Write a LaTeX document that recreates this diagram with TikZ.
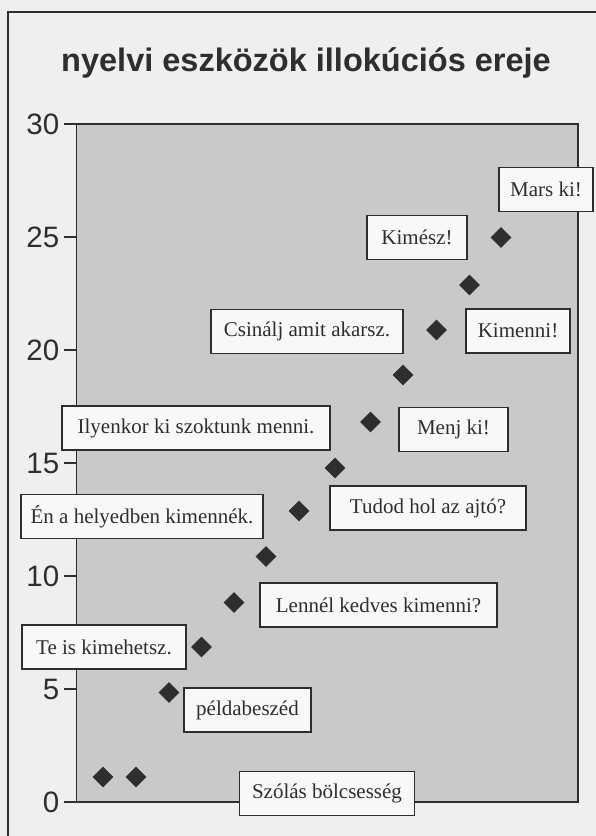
\documentclass[tikz,border=0pt]{standalone}
\usepackage{fontspec}
\setmainfont{Liberation Serif}
\setsansfont{Liberation Sans}
\usetikzlibrary{shapes.geometric}
\definecolor{bg}{HTML}{EFEFEF}
\definecolor{plotbg}{HTML}{C9C9C9}
\definecolor{ink}{HTML}{2E2E2E}
\definecolor{boxfill}{HTML}{F8F8F8}
\tikzset{
  lbl/.style={draw=ink, line width=1.4pt, fill=boxfill, text=ink,
    font=\fontsize{21}{24}\selectfont, minimum height=44pt, inner sep=0pt},
  pt/.style={diamond, fill=ink, inner sep=0pt, minimum width=21pt, minimum height=21pt},
  ticklbl/.style={font=\sffamily\fontsize{29.5}{32}\selectfont, text=ink, anchor=east, inner sep=0pt},
  axisline/.style={draw=ink, line width=1.4pt},
}
\begin{document}
\begin{tikzpicture}[x=1pt,y=-1pt]
\useasboundingbox (0,0) rectangle (596,836);
\fill[bg] (0,0) rectangle (596,836);
\draw[ink, line width=2pt] (596,12) -- (8,12) -- (8,836);
\node[font=\sffamily\bfseries\fontsize{32.5}{36}\selectfont, text=ink, anchor=base] (title) at (306,71) {nyelvi eszközök illokúciós ereje};
\fill[plotbg] (76.5,124) rectangle (578,802);
\draw[axisline] (76.5,124) rectangle (578,802);
\foreach \v in {0,5,...,30} {
  \draw[ink, line width=1.2pt] (64,{802-22.6*\v}) -- (76.5,{802-22.6*\v});
  \node[ticklbl] (t\v) at (59.5,{802-22.6*\v}) {\v};
}
% data points
\node[pt] (p1) at (103,777) {};
\node[pt] (p2) at (136,777) {};
\node[pt] (p3) at (169,692.5) {};
\node[pt] (p4) at (201.5,647) {};
\node[pt] (p5) at (234,602.5) {};
\node[pt] (p6) at (266,556.5) {};
\node[pt] (p7) at (299,511) {};
\node[pt] (p8) at (335,468) {};
\node[pt] (p9) at (370.5,422) {};
\node[pt] (p10) at (403,375) {};
\node[pt] (p11) at (436.5,330) {};
\node[pt] (p12) at (469.5,285) {};
\node[pt] (p13) at (501,237.5) {};
% labels
\node[lbl, minimum width=94pt] (l1) at (546,189.5) {Mars ki!};
\node[lbl, minimum width=100pt] (l2) at (417,237.5) {Kimész!};
\node[lbl, minimum width=192pt] (l3) at (307,331.5) {Csinálj amit akarsz.};
\node[lbl, minimum width=104pt] (l4) at (518,331) {Kimenni!};
\node[lbl, minimum width=268pt] (l5) at (196,428) {Ilyenkor ki szoktunk menni.};
\node[lbl, minimum width=109pt] (l6) at (453.5,429.5) {Menj ki!};
\node[lbl, minimum width=196pt] (l7) at (428,508) {Tudod hol az ajtó?};
\node[lbl, minimum width=242pt] (l8) at (142,516.5) {Én a helyedben kimennék.};
\node[lbl, minimum width=237pt] (l9) at (378.5,605) {Lennél kedves kimenni?};
\node[lbl, minimum width=164pt] (l10) at (104,647) {Te is kimehetsz.};
\node[lbl, minimum width=127pt] (l11) at (247.5,710) {példabeszéd};
\node[lbl, minimum width=175pt] (l12) at (327,793.5) {Szólás bölcsesség};
\end{tikzpicture}
\end{document}
